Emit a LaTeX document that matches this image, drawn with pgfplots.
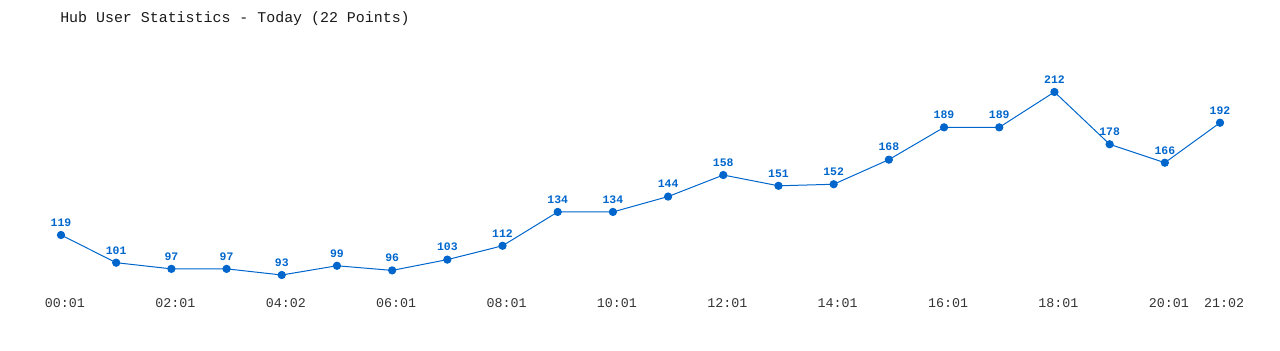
\documentclass[border=0pt]{standalone}
\usepackage{pgfplots}
\pgfplotsset{compat=1.18}
\usepackage{fontspec}
\setmainfont{Liberation Mono}
\setmonofont{Liberation Mono}
\definecolor{lineblue}{HTML}{0066CC}
\definecolor{tickgray}{HTML}{333333}
\begin{document}
\begin{tikzpicture}[x=0.75pt,y=0.75pt]
\useasboundingbox (-61,-55) rectangle (1219,295);
\begin{axis}[
  scale only axis,
  width=869.25pt, height=161.5pt,
  xmin=0, xmax=21, ymin=80, ymax=220,
  axis line style={draw=none},
  major tick style={draw=none},
  ytick=\empty,
  xtick={0,2,4,6,8,10,12,14,16,18,20,21},
  xticklabels={00:01,02:01,04:02,06:01,08:01,10:01,12:01,14:01,16:01,18:01,20:01,21:02},
  xticklabel style={anchor=base, yshift=-9.5pt, xshift=3pt, font=\fontsize{10}{12}\selectfont, text=tickgray},
  clip=false,
  nodes near coords,
  nodes near coords style={anchor=base, yshift=6.5pt, font=\fontsize{8.6}{10}\selectfont\bfseries, text=lineblue},
  point meta=explicit symbolic,
]
\addplot[color=lineblue, line width=0.75pt, mark=*, mark size=2.7pt, mark options={fill=lineblue, draw=lineblue}]
table[meta index=2] {
x y m
0 119 119
1 101 101
2 97 97
3 97 97
4 93 93
5 99 99
6 96 96
7 103 103
8 112 112
9 134 134
10 134 134
11 144 144
12 158 158
13 151 151
14 152 152
15 168 168
16 189 189
17 189 189
18 212 212
19 178 178
20 166 166
21 192 192
};
\end{axis}
\node[anchor=base west, inner sep=0pt, font=\fontsize{11.2}{13}\selectfont, text=black!90] at (-1,272) {Hub User Statistics - Today (22 Points)};
\end{tikzpicture}
\end{document}
